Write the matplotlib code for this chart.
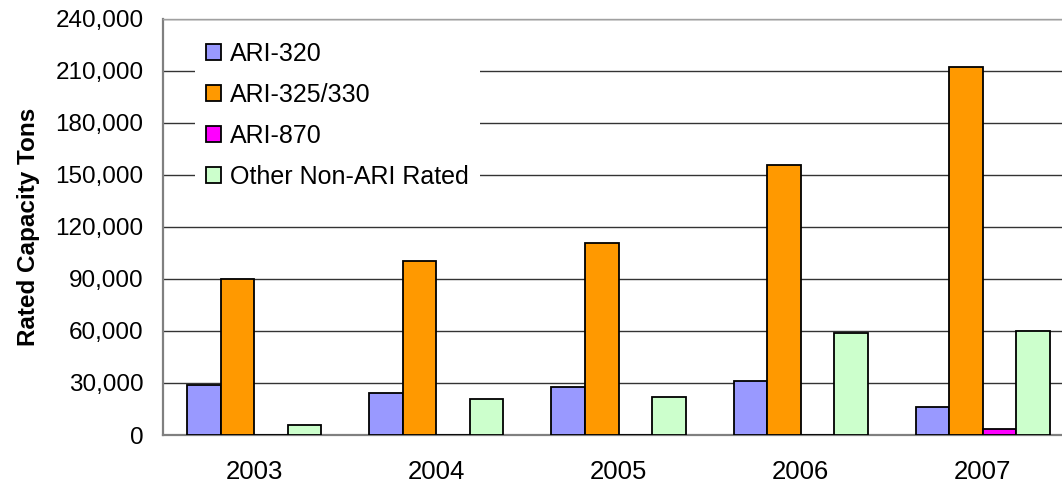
import matplotlib
matplotlib.use('Agg')
import matplotlib.pyplot as plt
import numpy as np

plt.rcParams['font.family'] = ['Liberation Sans', 'DejaVu Sans']

# data
years = ['2003', '2004', '2005', '2006', '2007']
ari_320 = [29000, 24200, 27500, 31300, 16200]
ari_325_330 = [90200, 100600, 111000, 155900, 212400]
ari_870 = [0, 0, 0, 0, 3600]
other_non_ari = [5600, 20800, 21800, 59000, 60000]

series = [
    ('ARI-320', ari_320, '#9999FF'),
    ('ARI-325/330', ari_325_330, '#FF9900'),
    ('ARI-870', ari_870, '#FF00FF'),
    ('Other Non-ARI Rated', other_non_ari, '#CCFFCC'),
]

fig = plt.figure(figsize=(10.62, 4.90), dpi=100)
ax = fig.add_axes([163 / 1062, 1 - 435 / 490, (1074 - 163) / 1062, (435 - 19) / 490])

x = np.arange(len(years))
w = 0.184
for i, (name, vals, col) in enumerate(series):
    ax.bar(x + (i - 1.5) * w, vals, w, color=col, edgecolor='black',
           linewidth=1.3, label=name, zorder=3)

ax.set_xlim(-0.5, len(years) - 0.5)
ax.set_ylim(0, 240000)
ax.set_yticks(np.arange(0, 240001, 30000))
ax.yaxis.set_major_formatter(matplotlib.ticker.FuncFormatter(lambda v, p: f'{int(v):,}'))
ax.set_xticks(x)
ax.set_xticklabels(years)
ax.tick_params(axis='y', length=0, pad=14, labelsize=17.5)
ax.tick_params(axis='x', length=0, pad=18, labelsize=18.5)

ax.grid(axis='y', color='#333333', linewidth=1.0, zorder=0)
for side in ['left', 'bottom']:
    ax.spines[side].set_color('#808080')
    ax.spines[side].set_linewidth(1.6)
ax.spines['top'].set_color('#a0a0a0')
ax.spines['top'].set_linewidth(1.0)
ax.spines['right'].set_visible(False)

ax.set_ylabel('Rated Capacity Tons', fontsize=17.5, fontweight='bold', labelpad=11)

leg = ax.legend(loc='upper left', bbox_to_anchor=(195 / 1062, 1 - 31 / 490),
                bbox_transform=fig.transFigure, fontsize=18, frameon=True,
                fancybox=False, edgecolor='none', facecolor='white', framealpha=1,
                handlelength=0.6, handleheight=0.6, handletextpad=0.33,
                labelspacing=0.68, borderpad=0.45, borderaxespad=0)
for h in leg.legend_handles:
    h.set_linewidth(1.3)
leg.set_zorder(5)

fig.savefig('out.png', dpi=100)
